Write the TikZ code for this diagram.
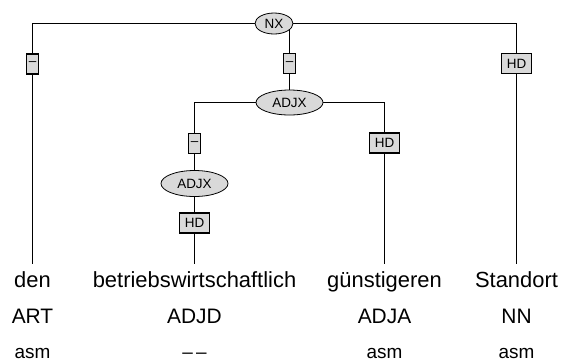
\documentclass[tikz,border=0pt]{standalone}
\usepackage{fontspec}
\setmainfont{Liberation Sans}
\usetikzlibrary{shapes.geometric,positioning,backgrounds}

\begin{document}
\begin{tikzpicture}[
  x=1bp, y=-1bp,
  font=\fontsize{13.5}{14}\selectfont,
  cat/.style={draw, ellipse, fill=black!15, inner sep=0pt, line width=0.8bp},
  fn/.style={draw, fill=black!15, inner xsep=5bp, inner ysep=0pt, minimum height=20bp, line width=1.4bp},
  dfn/.style={fn, inner xsep=2bp},
  word/.style={anchor=base, outer ysep=4bp, font=\fontsize{22}{24}\selectfont},
  tagrow/.style={anchor=base, font=\fontsize{21}{24}\selectfont},
  morph/.style={anchor=base, font=\fontsize{19}{22}\selectfont},
  branch/.style={line width=1bp}
]
\useasboundingbox (0,0) rectangle (561,362);
% categories and functions
\node[cat, minimum width=38bp, minimum height=21bp] (nx) at (274,23.5) {NX};
\node[dfn] (dL) at (32.5,64) {–};
\node[dfn] (dM) at (289.5,63.5) {–};
\node[fn] (hdR) at (516.5,63.5) {HD};
\node[cat, minimum width=67bp, minimum height=25bp] (adjxA) at (289.5,102.5) {ADJX};
\node[dfn] (dA) at (194.5,143.5) {–};
\node[fn] (hdA) at (384.5,143) {HD};
\node[cat, minimum width=67bp, minimum height=26bp] (adjxB) at (194.5,183.5) {ADJX};
\node[fn] (hdB) at (194.5,223) {HD};
% terminals
\node[word] (w1) at (32.5,287) {den};
\node[word] (w2) at (194.5,287) {betriebswirtschaftlich};
\node[word] (w3) at (384.5,287) {günstigeren};
\node[word] (w4) at (516.5,287) {Standort};
\node[tagrow] (p1) at (32.5,323) {ART};
\node[tagrow] (p2) at (194.5,323) {ADJD};
\node[tagrow] (p3) at (384.5,323) {ADJA};
\node[tagrow] (p4) at (516.5,323) {NN};
\node[morph] (m1) at (32.5,358) {asm};
\node[morph] (m2) at (194.5,358) {–\,–};
\node[morph] (m3) at (384.5,358) {asm};
\node[morph] (m4) at (516.5,358) {asm};
% branches
\begin{scope}[on background layer, branch]
\draw (nx) -| (dL) -- (w1);
\draw (nx) -| (hdR) -- (w4);
\draw (dM |- nx) -- (dM) -- (adjxA);
\draw (adjxA) -| (dA) -- (adjxB) -- (hdB) -- (w2);
\draw (adjxA) -| (hdA) -- (w3);
\end{scope}
\end{tikzpicture}
\end{document}
